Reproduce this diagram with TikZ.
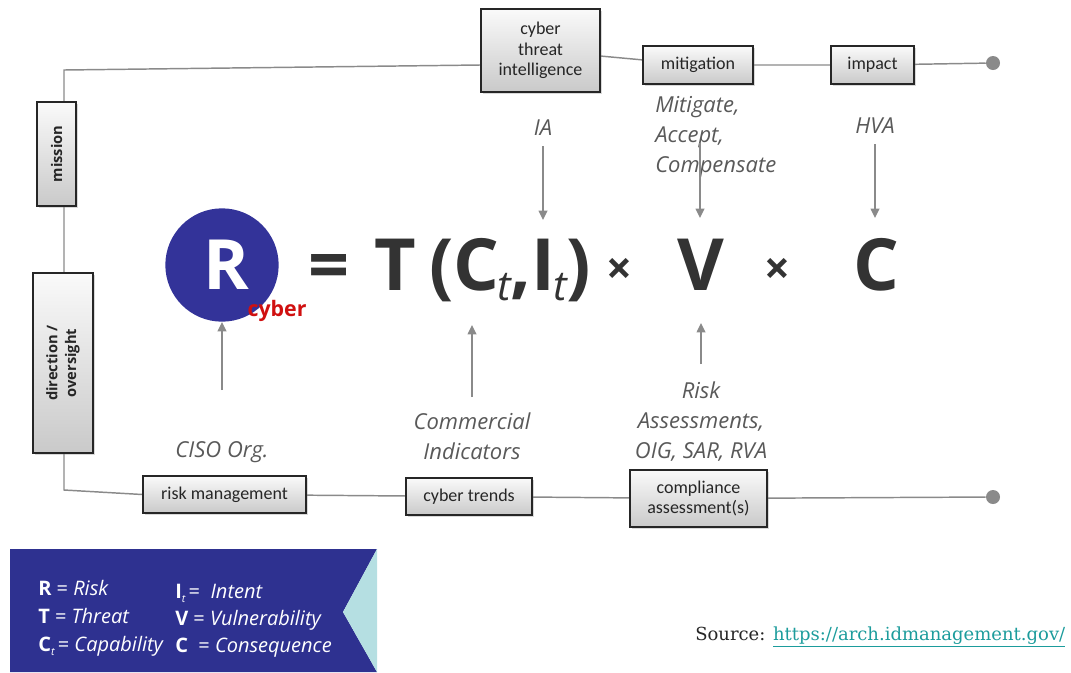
\documentclass[tikz,border=0pt]{standalone}
\usepackage{fontspec}
\setmainfont{Carlito}
\newfontfamily\opensans{Open Sans}
\newfontfamily\srcfont{DejaVu Serif}
\usetikzlibrary{shadows,arrows.meta,backgrounds}

\definecolor{boxline}{HTML}{262626}
\definecolor{wire}{HTML}{8A8A8A}
\definecolor{eqgray}{HTML}{333333}
\definecolor{labgray}{HTML}{595959}
\definecolor{riskblue}{HTML}{333399}
\definecolor{legblue}{HTML}{2E3190}
\definecolor{legcyan}{HTML}{B5DFE2}
\definecolor{cyberred}{HTML}{D01010}
\definecolor{linkteal}{HTML}{1C9C9C}

\newcommand\eqsub[1]{\kern-1.5pt\raisebox{-8pt}{\fontsize{31}{31}\selectfont\itshape\mdseries #1}\kern-0.5pt}
\newcommand\legsub[1]{\raisebox{-3pt}{\fontsize{8}{8}\selectfont\itshape #1}}

\begin{document}
\begin{tikzpicture}[x=0.75pt,y=-0.75pt,
  stagebox/.style={draw=boxline, line width=1.2pt, top color=gray!4, bottom color=gray!42,
    drop shadow={shadow xshift=1.2pt, shadow yshift=-1.6pt, opacity=0.3},
    inner sep=0pt, align=center, text=black!85,
    font=\fontsize{13.5}{15.5}\selectfont},
  sidebox/.style={stagebox, rotate=90, font=\opensans\fontsize{11}{14}\selectfont\bfseries},
  wireline/.style={draw=wire, line width=1.1pt},
  enddot/.style={circle, fill=wire, inner sep=0pt, minimum size=10.5pt},
  feed/.style={draw=wire, line width=1.1pt, -{Triangle[width=6.5pt,length=7pt]}},
  note/.style={font=\opensans\fontsize{16.5}{22.5}\selectfont\itshape, text=labgray, align=center, inner sep=0pt},
  eqterm/.style={font=\opensans\fontsize{54}{54}\selectfont\bfseries, text=eqgray, inner sep=0pt, anchor=base},
  times/.style={font=\opensans\fontsize{34}{34}\selectfont\bfseries, text=eqgray, inner sep=0pt, anchor=base},
  legend/.style={font=\opensans\fontsize{15}{15}\selectfont, text=white, inner sep=0pt, anchor=base west}]

\useasboundingbox (0,0) rectangle (1071,672);

% process boxes along the top and bottom rails
\node[stagebox, minimum width=89.25pt, minimum height=62.25pt] (cti) at (540.5,50.5) {cyber\\threat\\intelligence};
\node[stagebox, minimum width=82.5pt, minimum height=28.5pt] (mit) at (698,65) {mitigation};
\node[stagebox, minimum width=62.25pt, minimum height=28.5pt] (imp) at (872.5,65) {impact};
\node[enddot] (topend) at (993,63) {};

\node[sidebox, minimum width=78pt, minimum height=29.25pt] (mission) at (56.5,154) {mission};
\node[sidebox, minimum width=135pt, minimum height=45pt] (dir) at (63,363) {direction /\\oversight};

\node[stagebox, minimum width=122.25pt, minimum height=27.75pt] (rm) at (224.5,494.5) {risk management};
\node[stagebox, minimum width=94.5pt, minimum height=27.75pt] (ct) at (469,496.5) {cyber trends};
\node[stagebox, minimum width=102.75pt, minimum height=42.75pt] (ca) at (698.5,498.5) {compliance\\assessment(s)};
\node[enddot] (botend) at (993,497) {};

\coordinate (tl) at (64,70);
\coordinate (bl) at (64,490);

% rails behind the boxes
\begin{pgfonlayer}{background}
  \draw[wireline] (cti.west |- mit) -- (tl) -- (bl) -- (rm.west);
  \draw[wireline] (cti) -- (mit) -- (imp) -- (topend);
  \draw[wireline] (rm) -- (ct) -- (ca) -- (botend);
\end{pgfonlayer}

% the risk equation
\node[circle, fill=riskblue, minimum size=85pt, inner sep=0pt] (R) at (222,265) {};
\node[font=\opensans\fontsize{52}{52}\selectfont\bfseries, text=white, inner sep=0pt] (Rl) at (226,265) {R};
\node[font=\opensans\fontsize{16}{16}\selectfont\bfseries, text=cyberred, inner sep=0pt] (cyb) at (277,311) {cyber};

\node[eqterm] (eq) at (329,290) {=};
\node[eqterm] (T) at (395,290) {T};
\node[eqterm, anchor=base west] (CI) at (429,290) {(C\eqsub{t},I\eqsub{t})};
\node[times] (x1) at (619,284) {×};
\node[eqterm] (V) at (701,290) {V};
\node[times] (x2) at (777,284) {×};
\node[eqterm] (C) at (876,290) {C};

% inputs from above
\node[note] (ia) at (543,128) {IA};
\coordinate (iaend) at (543,220);
\draw[feed] (543,146) -- (iaend);

\node[note, align=left, anchor=west] (mac) at (655,137) {Mitigate,\\Accept,\\Compensate};
\coordinate (macend) at (700,218);
\draw[feed] (700,143) -- (macend);

\node[note] (hva) at (875,126) {HVA};
\coordinate (hvaend) at (875,218);
\draw[feed] (875,144) -- (hvaend);

% inputs from below
\node[note] (ciso) at (222,452) {CISO Org.};
\draw[feed] (222,390) -- (R.south);

\node[note] (com) at (472,436) {Commercial\\Indicators};
\coordinate (comend) at (472,325);
\draw[feed] (472,397) -- (comend);

\node[note] (ras) at (701,422) {Risk\\Assessments,\\OIG, SAR, RVA};
\coordinate (rasend) at (701,323);
\draw[feed] (701,364) -- (rasend);

% legend panel
\fill[legblue] (10,549) -- (377,549) -- (343,612) -- (377,672) -- (10,672) -- cycle;
\fill[legcyan] (377,549) -- (343,612) -- (377,672) -- cycle;
\node[legend] (l1) at (38,595) {\textbf{R} = \textit{Risk}};
\node[legend] (l2) at (38,623) {\textbf{T} = \textit{Threat}};
\node[legend] (l3) at (38,651) {\textbf{C}\legsub{t}\,= \textit{Capability}};
\node[legend] (l4) at (175,598) {\textbf{I}\legsub{t}\,= \ \textit{Intent}};
\node[legend] (l5) at (175,625) {\textbf{V} = \textit{Vulnerability}};
\node[legend] (l6) at (175,652) {\textbf{C} \ = \textit{Consequence}};

% source line
\node[anchor=base west, inner sep=0pt, font=\srcfont\fontsize{13.5}{13.5}\selectfont] (src) at (695,640)
  {\textcolor{black!85}{Source:} \textcolor{linkteal}{\underline{https://arch.idmanagement.gov/}}};

\end{tikzpicture}
\end{document}
